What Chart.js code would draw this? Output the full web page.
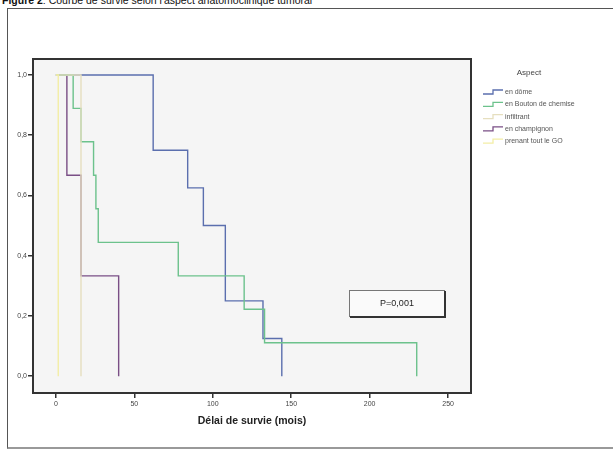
<!DOCTYPE html>
<html>
<head>
<meta charset="utf-8">
<script src="https://cdn.jsdelivr.net/npm/chart.js@4"></script>
<style>
  body { margin: 0; background: #fff; width: 613px; height: 452px; overflow: hidden; position: relative; font-family: "Liberation Sans", Arial, sans-serif; }
  #caption { position: absolute; left: 2px; top: -6px; font-size: 10.5px; color: #111; white-space: nowrap; }
  #frame { position: absolute; left: 7px; top: 8px; width: 620px; height: 438px; border: 1px solid #555; border-bottom: 2px solid #999; }
  #chart { position: absolute; left: 0; top: 0; }
</style>
</head>
<body>
<div id="caption"><b>Figure 2</b>: Courbe de survie selon l'aspect anatomoclinique tumoral</div>
<div id="frame"></div>
<canvas id="chart" width="613" height="452"></canvas>
<script>
// survival data: time (months) and survival after each event
var groups = ['en dôme', 'en Bouton de chemise', 'infiltrant', 'en champignon', 'prenant tout le GO'];
var colors = ['#5b6fae', '#6cc28c', '#e6dfbf', '#7a4f86', '#f3eea6'];

var domeT = [0, 62, 84, 94, 108, 132, 144];
var domeS = [1, 0.75, 0.625, 0.5, 0.25, 0.125, 0];
var boutonT = [0, 11, 16, 24, 25.5, 27, 78, 120, 133, 230];
var boutonS = [1, 0.889, 0.778, 0.667, 0.556, 0.444, 0.333, 0.222, 0.111, 0];
var infiltrantT = [0, 16];
var infiltrantS = [1, 0];
var champignonT = [0, 7, 16, 40];
var champignonS = [1, 0.667, 0.333, 0];
var prenantT = [0, 1.5];
var prenantS = [1, 0];

var xTicks = [0, 50, 100, 150, 200, 250];
var yTicks = [0, 0.2, 0.4, 0.6, 0.8, 1.0];
var pText = 'P=0,001';

function pts(t, s) {
  var out = [];
  for (var i = 0; i < t.length; i++) out.push({x: t[i], y: s[i]});
  return out;
}
var series = [[domeT, domeS], [boutonT, boutonS], [infiltrantT, infiltrantS], [champignonT, champignonS], [prenantT, prenantS]];
// draw faint ones first so the dark curves lie on top
var order = [4, 2, 1, 0, 3];
var datasets = order.map(function (k) {
  return {
    label: groups[k],
    data: pts(series[k][0], series[k][1]),
    borderColor: colors[k],
    borderWidth: 1.4,
    pointRadius: 0,
    stepped: true,
    fill: false
  };
});

var plotBg = {
  id: 'plotBg',
  beforeDraw: function (chart) {
    var a = chart.chartArea, ctx = chart.ctx;
    ctx.save();
    ctx.fillStyle = '#f5f5f5';
    ctx.fillRect(a.left, a.top, a.right - a.left, a.bottom - a.top);
    ctx.restore();
  },
  afterDraw: function (chart) {
    var a = chart.chartArea, ctx = chart.ctx;
    ctx.save();
    ctx.strokeStyle = '#333';
    ctx.lineWidth = 2;
    ctx.strokeRect(a.left, a.top, a.right - a.left, a.bottom - a.top);

    // p value box
    ctx.fillStyle = '#fafafa';
    ctx.fillRect(349, 290, 95, 26);
    ctx.strokeStyle = '#777';
    ctx.lineWidth = 1;
    ctx.strokeRect(349.5, 290.5, 95, 26);
    ctx.strokeStyle = '#333';
    ctx.lineWidth = 2;
    ctx.beginPath();
    ctx.moveTo(350, 317); ctx.lineTo(445, 317); ctx.lineTo(445, 291);
    ctx.stroke();
    ctx.fillStyle = '#222';
    ctx.font = '9px "Liberation Sans", Arial';
    ctx.textAlign = 'center';
    ctx.textBaseline = 'middle';
    ctx.fillText(pText, 397, 304);

    // legend
    ctx.textAlign = 'center';
    ctx.fillStyle = '#444';
    ctx.font = '8px "Liberation Sans", Arial';
    ctx.fillText('Aspect', 529, 73);
    ctx.textAlign = 'left';
    ctx.font = '7px "Liberation Sans", Arial';
    for (var i = 0; i < groups.length; i++) {
      var y = 92 + i * 12.3;
      ctx.strokeStyle = colors[i];
      ctx.lineWidth = 1.3;
      ctx.beginPath();
      ctx.moveTo(483, y + 2); ctx.lineTo(493, y + 2); ctx.lineTo(493, y - 2); ctx.lineTo(503, y - 2);
      ctx.stroke();
      ctx.fillStyle = '#555';
      ctx.fillText(groups[i], 505, y);
    }
    ctx.restore();
  }
};

new Chart(document.getElementById('chart'), {
  type: 'line',
  data: { datasets: datasets },
  options: {
    responsive: false,
    animation: false,
    layout: { padding: { left: 0, top: 59, right: 142, bottom: 23 } },
    plugins: { legend: { display: false }, tooltip: { enabled: false } },
    scales: {
      x: {
        type: 'linear',
        min: -14.6,
        max: 264.6,
        afterBuildTicks: function (s) { s.ticks = xTicks.map(function (v) { return {value: v}; }); },
        afterFit: function (s) { s.height = 36; },
        grid: { drawOnChartArea: false, drawTicks: true, tickLength: 5, color: '#333', lineWidth: 1.5 },
        border: { display: true, color: '#333', width: 2 },
        ticks: { color: '#444', font: { size: 7, family: '"Liberation Sans", Arial' }, padding: 2, maxRotation: 0 },
        title: { display: true, text: 'Délai de survie (mois)', color: '#222', font: { size: 10.5, weight: 'bold', family: '"Liberation Sans", Arial' }, padding: { top: 4, bottom: 2 } }
      },
      y: {
        type: 'linear',
        min: -0.056,
        max: 1.053,
        afterBuildTicks: function (s) { s.ticks = yTicks.map(function (v) { return {value: v}; }); },
        afterFit: function (s) { s.width = 33; },
        grid: { drawOnChartArea: false, drawTicks: true, tickLength: 5, color: '#333', lineWidth: 1.5 },
        border: { display: true, color: '#333', width: 2 },
        ticks: {
          color: '#444',
          font: { size: 7, family: '"Liberation Sans", Arial' },
          padding: 1,
          callback: function (v) { return v.toFixed(1).replace('.', ','); }
        }
      }
    }
  },
  plugins: [plotBg]
});
</script>
</body>
</html>
